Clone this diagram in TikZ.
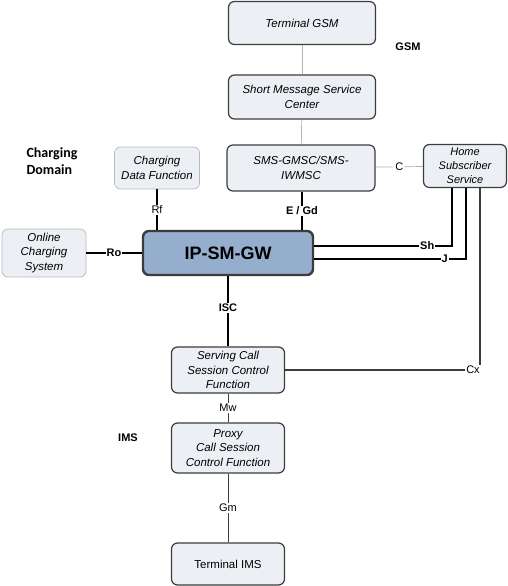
\documentclass[tikz,border=0pt]{standalone}
\usepackage{fontspec}
\setmainfont{Liberation Sans}
\newfontfamily\carlito{Carlito}
\definecolor{fondocaja}{RGB}{236,240,245}
\definecolor{azulgw}{RGB}{150,174,206}
\definecolor{bordecaja}{RGB}{60,60,60}
\definecolor{lineagris}{RGB}{178,178,178}
\begin{document}
\begin{tikzpicture}[x=1pt,y=-1pt,
    caja/.style={draw=bordecaja, fill=fondocaja, rounded corners=6pt, line width=1.2pt,
      align=center, inner sep=0pt, font=\fontsize{11.5}{14.3}\selectfont\itshape},
    cajaclara/.style={caja, draw=gray!55, line width=0.7pt},
    pasarela/.style={caja, fill=azulgw, line width=2.4pt, font=\fontsize{18}{20}\selectfont\bfseries},
    gruesa/.style={line width=2.4pt},
    fina/.style={lineagris, line width=0.7pt},
    media/.style={bordecaja, line width=0.9pt},
    etiq/.style={fill=white, text=black, inner sep=1pt, font=\fontsize{11}{12}\selectfont},
    etiqn/.style={etiq, font=\fontsize{11}{12}\selectfont\bfseries},
    dominio/.style={font=\fontsize{11}{12}\selectfont\bfseries}]
  \useasboundingbox (0,0) rectangle (507,586);

  % Dominio GSM
  \node[caja, minimum width=147pt, minimum height=43pt] (tgsm) at (302,23) {Terminal GSM};
  \node[caja, minimum width=147pt, minimum height=44pt] (smsc) at (302,97) {Short Message Service\\Center};
  \node[caja, minimum width=148pt, minimum height=46pt] (gmsc) at (301,168) {SMS-GMSC/SMS-\\IWMSC};
  \node[caja, minimum width=83pt, minimum height=43pt, font=\fontsize{11}{14}\selectfont\itshape] (hss) at (465,166) {Home\\Subscriber\\Service};
  \node[dominio] (gsm) at (408,47) {GSM};

  % Dominio de tarificacion
  \node[cajaclara, minimum width=85pt, minimum height=42pt] (cdf) at (157,168) {Charging\\Data Function};
  \node[cajaclara, minimum width=84pt, minimum height=48pt] (ocs) at (44,253) {Online\\Charging\\System};
  \node[anchor=west, align=left, font=\carlito\fontsize{14}{17}\selectfont\bfseries] (tarif) at (23,161) {Charging\\Domain};

  % Pasarela
  \node[pasarela, minimum width=170pt, minimum height=44pt] (gw) at (228,253) {IP-SM-GW};

  % Dominio IMS
  \node[caja, minimum width=113pt, minimum height=46pt] (scscf) at (228,370) {Serving Call\\Session Control\\Function};
  \node[caja, minimum width=113pt, minimum height=50pt] (pcscf) at (228,448) {Proxy\\Call Session\\Control Function};
  \node[caja, minimum width=113pt, minimum height=42pt, font=\fontsize{11.5}{14}\selectfont] (tims) at (228,564) {Terminal IMS};
  \node[dominio] (ims) at (128,438) {IMS};

  % Codos
  \coordinate (shcodo) at (452,246);
  \coordinate (jcodo) at (466,259);
  \coordinate (cxcodo) at (480,370);

  % Enlaces finos
  \draw[fina] (tgsm) -- (smsc);
  \draw[fina] (smsc) -- (gmsc);
  \draw[fina] (gmsc) -- node[etiq] {C} (hss);

  % Enlaces gruesos
  \draw[gruesa] (cdf) -- node[etiq, pos=0.5] {Rf} (cdf.south |- gw.north);
  \draw[gruesa] (gmsc.south -| 302,0) -- node[etiqn] {E / Gd} (gw.north -| 302,0);
  \draw[gruesa] (ocs) -- node[etiqn] {Ro} (gw);
  \draw[gruesa] (gw.east |- shcodo) -- node[etiqn, pos=0.82] {Sh} (shcodo) -- (hss.south -| shcodo);
  \draw[gruesa] (gw.east |- jcodo) -- node[etiqn, pos=0.86] {J} (jcodo) -- (hss.south -| jcodo);
  \draw[gruesa] (gw) -- node[etiqn, pos=0.45] {ISC} (scscf);

  % Enlaces IMS
  \draw[media, line width=1.5pt] (scscf.east) -- (cxcodo) -- (hss.south -| cxcodo);
  \node[etiq] (cx) at (473,370) {Cx};
  \draw[media] (scscf) -- node[etiq] {Mw} (pcscf);
  \draw[media] (pcscf) -- node[etiq] {Gm} (tims);

\end{tikzpicture}
\end{document}
